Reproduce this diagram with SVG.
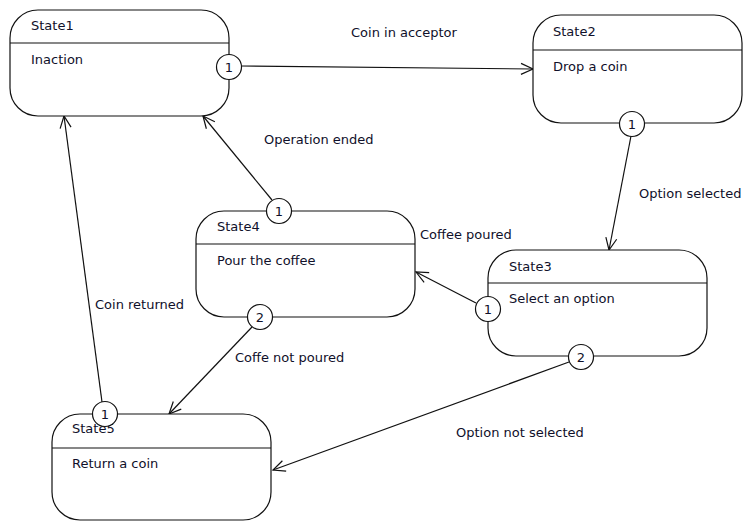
<svg xmlns="http://www.w3.org/2000/svg" width="743" height="522" viewBox="0 0 743 522">
  <style>
    .box { fill: #fff; stroke: #111; stroke-width: 1.2; }
    .div { stroke: #111; stroke-width: 1.2; }
    .port { fill: #fff; stroke: #111; stroke-width: 1.2; }
    .t { font-family: "DejaVu Sans", Verdana, sans-serif; font-size: 13px; fill: #10102a; }
    .pn { font-family: "DejaVu Sans", Verdana, sans-serif; font-size: 13px; fill: #10102a; text-anchor: middle; }
    .edge { fill: none; stroke: #111; stroke-width: 1.2; marker-end: url(#arrow); }
  </style>
  <defs>
    <marker id="arrow" markerUnits="userSpaceOnUse" markerWidth="30" markerHeight="30" refX="0" refY="0" viewBox="-15 -15 30 30" orient="auto" overflow="visible">
      <path d="M-12,-5.5 L0,0 L-12,5.5" fill="none" stroke="#111" stroke-width="1.2"/>
    </marker>
  </defs>
  <rect width="743" height="522" fill="#fff"/>

  <g id="connectors">
    <line class="edge" x1="241" y1="66" x2="533" y2="69"/>
    <line class="edge" x1="631" y1="136" x2="609" y2="250"/>
    <line class="edge" x1="476" y1="303" x2="416" y2="272"/>
    <line class="edge" x1="272" y1="200" x2="203" y2="116"/>
    <line class="edge" x1="102" y1="402" x2="64" y2="116"/>
    <line class="edge" x1="252" y1="327" x2="169" y2="414"/>
    <line class="edge" x1="569" y1="362" x2="273" y2="470"/>
    <text class="t" x="351" y="37">Coin in acceptor</text>
    <text class="t" x="639" y="198">Option selected</text>
    <text class="t" x="264" y="144">Operation ended</text>
    <text class="t" x="420" y="239">Coffee poured</text>
    <text class="t" x="95" y="309">Coin returned</text>
    <text class="t" x="235" y="362">Coffe not poured</text>
    <text class="t" x="456" y="437">Option not selected</text>
  </g>

  <g id="state1">
    <rect class="box" x="10" y="10" width="219" height="106" rx="28" ry="28"/>
    <line class="div" x1="10" y1="43" x2="229" y2="43"/>
    <text class="t" x="31" y="30">State1</text>
    <text class="t" x="31" y="64">Inaction</text>
    <circle class="port" cx="229" cy="67" r="12.5"/>
    <text class="pn" x="229" y="71.5">1</text>
  </g>

  <g id="state2">
    <rect class="box" x="533" y="15" width="209" height="108" rx="28" ry="28"/>
    <line class="div" x1="533" y1="50" x2="742" y2="50"/>
    <text class="t" x="553" y="36">State2</text>
    <text class="t" x="553" y="71">Drop a coin</text>
    <circle class="port" cx="632" cy="124" r="12.5"/>
    <text class="pn" x="632" y="128.5">1</text>
  </g>

  <g id="state3">
    <rect class="box" x="488" y="250" width="219" height="106" rx="28" ry="28"/>
    <line class="div" x1="488" y1="283" x2="707" y2="283"/>
    <text class="t" x="509" y="271">State3</text>
    <text class="t" x="509" y="303">Select an option</text>
    <circle class="port" cx="488" cy="309" r="12.5"/>
    <text class="pn" x="488" y="313.5">1</text>
    <circle class="port" cx="581" cy="357" r="12.5"/>
    <text class="pn" x="581" y="361.5">2</text>
  </g>

  <g id="state4">
    <rect class="box" x="196" y="211" width="219" height="106" rx="28" ry="28"/>
    <line class="div" x1="196" y1="244" x2="415" y2="244"/>
    <text class="t" x="217" y="231">State4</text>
    <text class="t" x="217" y="265">Pour the coffee</text>
    <circle class="port" cx="279" cy="211" r="12.5"/>
    <text class="pn" x="279" y="215.5">1</text>
    <circle class="port" cx="260" cy="317" r="12.5"/>
    <text class="pn" x="260" y="321.5">2</text>
  </g>

  <g id="state5">
    <rect class="box" x="52" y="414" width="219" height="106" rx="28" ry="28"/>
    <line class="div" x1="52" y1="448" x2="271" y2="448"/>
    <text class="t" x="72" y="433">State5</text>
    <text class="t" x="72" y="468">Return a coin</text>
    <circle class="port" cx="105" cy="414" r="12.5"/>
    <text class="pn" x="105" y="418.5">1</text>
  </g>
</svg>
